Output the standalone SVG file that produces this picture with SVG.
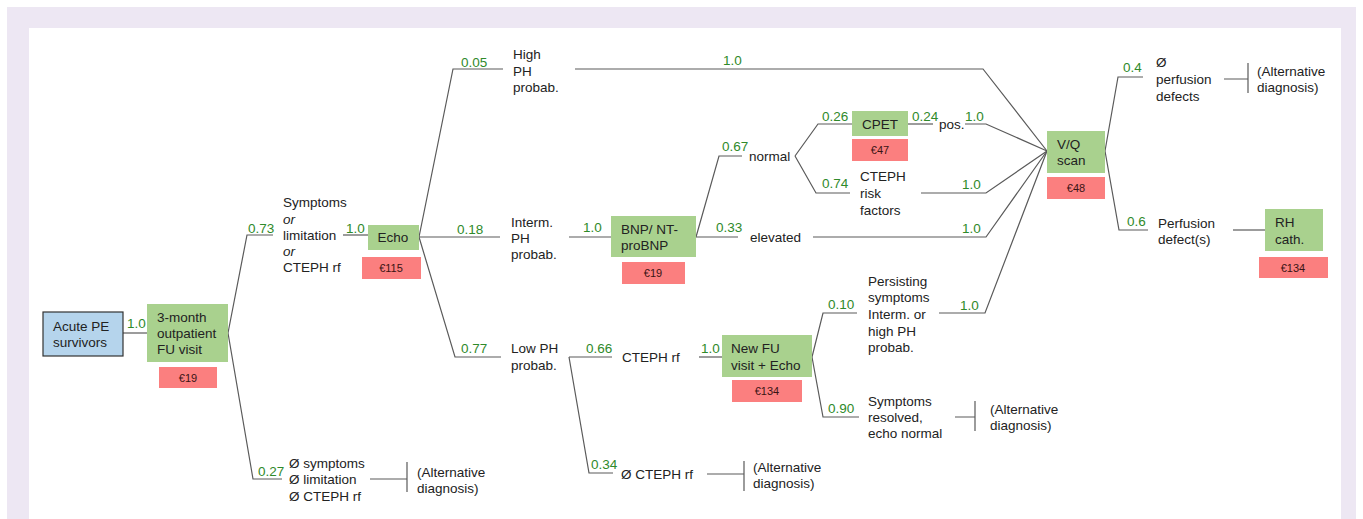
<svg xmlns="http://www.w3.org/2000/svg" width="1363" height="519" viewBox="0 0 1363 519">
<style>
text{font-family:"Liberation Sans",Arial,sans-serif;font-size:13.5px;fill:#222}
.p{fill:#2f8a2a}
.c{font-size:11px;text-anchor:middle;fill:#3a1414}
.g{fill:#a9d18e}
.r{fill:#fb7f7f}
.ln{fill:none;stroke:#5a5a5a;stroke-width:1.2}
</style>
<rect x="7" y="7" width="1349" height="512" fill="#ede7f3"/>
<rect x="29" y="28" width="1312" height="491" fill="#ffffff"/>
<g id="connectors" class="ln">
<path d="M123,333H147"/>
<path d="M228,333L247,235H273"/>
<path d="M228,333L253,479H282"/>
<path d="M343,235H368"/>
<path d="M419,237L453,69H503"/>
<path d="M419,237H500"/>
<path d="M419,237L455,357H501"/>
<path d="M575,69H983L1047,151"/>
<path d="M569,237H611"/>
<path d="M696,237L719,156H742"/>
<path d="M696,237H738"/>
<path d="M813,237H986L1047,151"/>
<path d="M795,156L818,124H852"/>
<path d="M795,156L816,193H850"/>
<path d="M908,124H933"/>
<path d="M965,124H986L1047,151"/>
<path d="M921,193H986L1047,151"/>
<path d="M569,357H612"/>
<path d="M569,357L589,473H613"/>
<path d="M707,474H744M744,461V491"/>
<path d="M699,357H722"/>
<path d="M812,357L823,313H857"/>
<path d="M812,357L823,417H859"/>
<path d="M939,313H985L1047,151"/>
<path d="M955,417H975M975,401V431"/>
<path d="M1105,151L1118,77H1143"/>
<path d="M1105,151L1119,230H1148"/>
<path d="M1224,79H1248M1248,63V93"/>
<path d="M1233,230H1265"/>
<path d="M370,479H407M407,462V492"/>
</g>
<g id="probabilities">
<text class="p" x="127" y="328">1.0</text>
<text class="p" x="248" y="233">0.73</text>
<text class="p" x="258" y="476">0.27</text>
<text class="p" x="346" y="233">1.0</text>
<text class="p" x="461" y="67">0.05</text>
<text class="p" x="457" y="234">0.18</text>
<text class="p" x="461" y="353">0.77</text>
<text class="p" x="723" y="65">1.0</text>
<text class="p" x="583" y="232">1.0</text>
<text class="p" x="722" y="151">0.67</text>
<text class="p" x="716" y="232">0.33</text>
<text class="p" x="822" y="121">0.26</text>
<text class="p" x="822" y="188">0.74</text>
<text class="p" x="912" y="121">0.24</text>
<text class="p" x="965" y="121">1.0</text>
<text class="p" x="962" y="189">1.0</text>
<text class="p" x="962" y="233">1.0</text>
<text class="p" x="960" y="310">1.0</text>
<text class="p" x="1123" y="72">0.4</text>
<text class="p" x="1127" y="226">0.6</text>
<text class="p" x="586" y="353">0.66</text>
<text class="p" x="701" y="353">1.0</text>
<text class="p" x="591" y="469">0.34</text>
<text class="p" x="828" y="309">0.10</text>
<text class="p" x="828" y="413">0.90</text>
</g>
<g id="acute-pe">
<rect x="43" y="312" width="80" height="44" fill="#b5d4ec" stroke="#333" stroke-width="1.2"/>
<text x="53" y="331">Acute PE</text>
<text x="53" y="347">survivors</text>
</g>
<g id="fu-visit">
<rect class="g" x="147" y="304" width="81" height="58"/>
<text x="157" y="322">3-month</text>
<text x="157" y="338">outpatient</text>
<text x="157" y="354">FU visit</text>
<rect class="r" x="159" y="367" width="58" height="21"/>
<text class="c" x="188" y="382">€19</text>
</g>
<g id="symptoms">
<text x="283" y="207">Symptoms</text>
<text x="283" y="224" font-style="italic">or</text>
<text x="283" y="240">limitation</text>
<text x="283" y="256" font-style="italic">or</text>
<text x="283" y="272">CTEPH rf</text>
</g>
<g id="no-symptoms">
<text x="289" y="468">Ø symptoms</text>
<text x="289" y="484">Ø limitation</text>
<text x="289" y="501">Ø CTEPH rf</text>
</g>
<g id="alt-diag-1">
<text x="417" y="477">(Alternative</text>
<text x="417" y="493">diagnosis)</text>
</g>
<g id="echo">
<rect class="g" x="368" y="225" width="51" height="25"/>
<text x="393" y="242" text-anchor="middle">Echo</text>
<rect class="r" x="362" y="257" width="59" height="22"/>
<text class="c" x="391" y="272">€115</text>
</g>
<g id="high-ph">
<text x="513" y="59">High</text>
<text x="513" y="76">PH</text>
<text x="513" y="92">probab.</text>
</g>
<g id="interm-ph">
<text x="511" y="227">Interm.</text>
<text x="511" y="243">PH</text>
<text x="511" y="259">probab.</text>
</g>
<g id="low-ph">
<text x="511" y="353">Low PH</text>
<text x="511" y="370">probab.</text>
</g>
<g id="bnp">
<rect class="g" x="611" y="216" width="85" height="41"/>
<text x="621" y="234">BNP/ NT-</text>
<text x="621" y="250">proBNP</text>
<rect class="r" x="622" y="262" width="63" height="22"/>
<text class="c" x="653" y="277">€19</text>
</g>
<g id="normal"><text x="749" y="161">normal</text></g>
<g id="elevated"><text x="750" y="242">elevated</text></g>
<g id="cpet">
<rect class="g" x="852" y="111" width="56" height="25"/>
<text x="880" y="129" text-anchor="middle">CPET</text>
<rect class="r" x="852" y="139" width="56" height="22"/>
<text class="c" x="880" y="154">€47</text>
</g>
<g id="pos"><text x="939" y="129">pos.</text></g>
<g id="cteph-risk">
<text x="860" y="181">CTEPH</text>
<text x="860" y="198">risk</text>
<text x="860" y="215">factors</text>
</g>
<g id="cteph-rf"><text x="622" y="362">CTEPH rf</text></g>
<g id="no-cteph-rf"><text x="621" y="479">Ø CTEPH rf</text></g>
<g id="alt-diag-2">
<text x="753" y="472">(Alternative</text>
<text x="753" y="488">diagnosis)</text>
</g>
<g id="new-fu">
<rect class="g" x="722" y="335" width="90" height="42"/>
<text x="731" y="353">New FU</text>
<text x="731" y="370">visit + Echo</text>
<rect class="r" x="732" y="380" width="70" height="22"/>
<text class="c" x="767" y="395">€134</text>
</g>
<g id="persisting">
<text x="868" y="286">Persisting</text>
<text x="868" y="302">symptoms</text>
<text x="868" y="319">Interm. or</text>
<text x="868" y="336">high PH</text>
<text x="868" y="352">probab.</text>
</g>
<g id="resolved">
<text x="868" y="406">Symptoms</text>
<text x="868" y="422">resolved,</text>
<text x="868" y="438">echo normal</text>
</g>
<g id="alt-diag-3">
<text x="990" y="414">(Alternative</text>
<text x="990" y="430">diagnosis)</text>
</g>
<g id="vq-scan">
<rect class="g" x="1047" y="131" width="58" height="42"/>
<text x="1057" y="149">V/Q</text>
<text x="1057" y="165">scan</text>
<rect class="r" x="1047" y="177" width="58" height="22"/>
<text class="c" x="1076" y="192">€48</text>
</g>
<g id="no-perfusion">
<text x="1156" y="67">Ø</text>
<text x="1156" y="84">perfusion</text>
<text x="1156" y="101">defects</text>
</g>
<g id="alt-diag-4">
<text x="1257" y="76">(Alternative</text>
<text x="1257" y="92">diagnosis)</text>
</g>
<g id="perfusion">
<text x="1158" y="228">Perfusion</text>
<text x="1158" y="244">defect(s)</text>
</g>
<g id="rh-cath">
<rect class="g" x="1265" y="209" width="58" height="42"/>
<text x="1275" y="227">RH</text>
<text x="1275" y="244">cath.</text>
<rect class="r" x="1259" y="257" width="69" height="21"/>
<text class="c" x="1293" y="272">€134</text>
</g>
</svg>
